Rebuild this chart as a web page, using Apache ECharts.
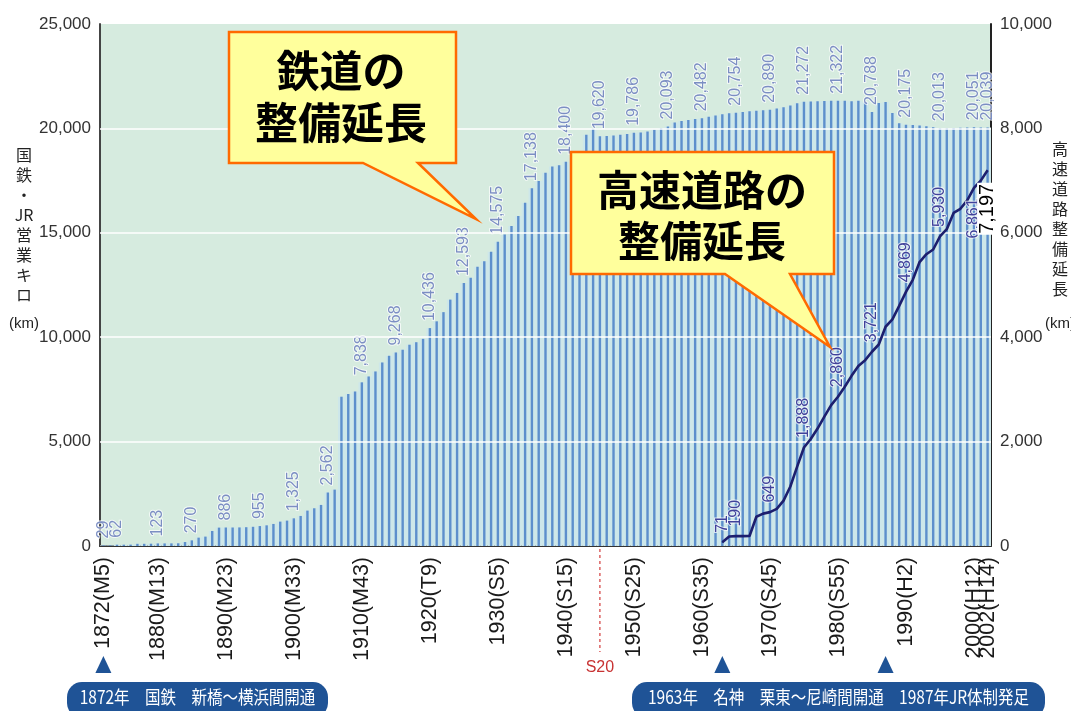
<!DOCTYPE html>
<html>
<head>
<meta charset="utf-8">
<script src="https://cdn.jsdelivr.net/npm/echarts@6/dist/echarts.min.js"></script>
<style>
  html, body { margin: 0; padding: 0; background: #ffffff; }
  #chart { width: 1071px; height: 711px; }
</style>
</head>
<body>
<div id="chart"></div>
<script>
// Years on the category axis (1872 .. 2002, one band per year)
const years = [];
for (let y = 1872; y <= 2002; y++) years.push(String(y));

// National railways / JR operating kilometres, one value per year 1872..2002
const railKm = [
  29, 29, 62, 62, 65, 105, 105, 110,                     // 1872-1879
  123, 123, 125, 130, 190, 270, 400, 450, 720, 880,      // 1880-1889
  886, 886, 890, 900, 920, 955, 990, 1056, 1168, 1216,   // 1890-1899
  1325, 1440, 1695, 1807, 1967, 2562, 2700, 7150, 7280, 7400, // 1900-1909
  7838, 8120, 8360, 8790, 9110, 9268, 9400, 9640, 9760, 9920, // 1910-1919
  10436, 10760, 11200, 11800, 12120, 12593, 12850, 13370, 13640, 14090, // 1920-1929
  14575, 14920, 15320, 15800, 16440, 17138, 17480, 17880, 18170, 18230, // 1930-1939
  18400, 18600, 18800, 19700, 19990, 19620, 19640, 19660, 19690, 19730, // 1940-1949
  19786, 19800, 19850, 19930, 20010, 20093, 20280, 20360, 20400, 20450, // 1950-1959
  20482, 20560, 20620, 20680, 20720, 20754, 20790, 20820, 20850, 20870, // 1960-1969
  20890, 20950, 21010, 21100, 21200, 21272, 21290, 21300, 21310, 21320, // 1970-1979
  21322, 21320, 21300, 21330, 21250, 20788, 21220, 21270, 20740, 20250, // 1980-1989
  20175, 20160, 20140, 20100, 20050, 20013, 20010, 20020, 20030, 20040, // 1990-1999
  20051, 20045, 20039                                    // 2000-2002
];

// Expressway length in service (km), 1963..2002
const highwayStart = 1963;
const highwayKm = [
  71, 181, 190, 190, 192, 560, 620,                      // 1963-1969
  649, 710, 870, 1140, 1520, 1888, 2050, 2250, 2480, 2700, // 1970-1979
  2860, 3050, 3260, 3450, 3560, 3721, 3860, 4200, 4340, 4600, // 1980-1989
  4869, 5100, 5440, 5590, 5680, 5930, 6070, 6380, 6460, 6620, // 1990-1999
  6861, 7000, 7197                                       // 2000-2002
];

// Year labels on the time axis (the last one sits on its own label row)
const xTickLabels = {
  '1872': '1872(M5)', '1880': '1880(M13)', '1890': '1890(M23)', '1900': '1900(M33)',
  '1910': '1910(M43)', '1920': '1920(T9)', '1930': '1930(S5)', '1940': '1940(S15)',
  '1950': '1950(S25)', '1960': '1960(S35)', '1970': '1970(S45)', '1980': '1980(S55)',
  '1990': '1990(H2)', '2000': '2000(H12)'
};
const xEndLabels = { '2002': '2002(H14)' };

// Years whose values are printed next to the marks
const railLabelYears = [1872, 1874, 1880, 1885, 1890, 1895, 1900, 1905, 1910, 1915, 1920,
  1925, 1930, 1935, 1940, 1945, 1950, 1955, 1960, 1965, 1970, 1975, 1980, 1985, 1990,
  1995, 2000, 2002];
const highwayLabelYears = [1963, 1965, 1970, 1975, 1980, 1985, 1990, 1995, 2000, 2002];
const highwayLabelsBelow = [2000];

const SANS = "'Liberation Sans', Arial, sans-serif";
const JP = "'Noto Sans CJK JP', sans-serif";
const fmt = v => Number(v).toLocaleString('en-US');
const has = (obj, key) => Object.prototype.hasOwnProperty.call(obj, key);

const railData = railKm.map((v, i) => {
  const yr = 1872 + i;
  return railLabelYears.includes(yr) ? { value: v, label: { show: true } } : v;
});

const highwayData = years.map(y => {
  const yr = Number(y);
  const idx = yr - highwayStart;
  if (idx < 0 || idx >= highwayKm.length) return null;
  const v = highwayKm[idx];
  if (!highwayLabelYears.includes(yr)) return v;
  if (yr === 2002) {
    return { value: v, label: { show: true, position: 'bottom', rotate: 90, align: 'right',
      verticalAlign: 'middle', distance: 12, fontSize: 20, color: '#000',
      backgroundColor: '#ffffff', padding: [1, 1, 0, 1], textBorderWidth: 0 } };
  }
  if (highwayLabelsBelow.includes(yr)) {
    return { value: v, label: { show: true, position: 'bottom', rotate: 90, align: 'right',
      verticalAlign: 'middle', distance: 10 } };
  }
  return { value: v, label: { show: true } };
});

const yearLabelStyle = {
  rotate: 90, margin: 11, color: '#1a1a1a', fontSize: 21.5, fontFamily: SANS,
  hideOverlap: false, showMinLabel: true, showMaxLabel: true
};

const chart = echarts.init(document.getElementById('chart'), null, { renderer: 'canvas' });

const option = {
  animation: false,
  backgroundColor: '#ffffff',
  grid: {
    left: 100, right: 80, top: 24, bottom: 165,
    show: true, backgroundColor: '#d6ebdf', borderWidth: 0
  },
  xAxis: [
    {
      type: 'category', data: years, boundaryGap: true, position: 'bottom',
      axisLine: { show: true, lineStyle: { color: '#333', width: 2 } },
      axisTick: { show: false },
      axisLabel: Object.assign({}, yearLabelStyle, {
        interval: (index, value) => has(xTickLabels, value),
        formatter: value => xTickLabels[value] || ''
      }),
      splitLine: { show: false }
    },
    {
      type: 'category', data: years, boundaryGap: true, position: 'bottom', offset: 0,
      axisLine: { show: false },
      axisTick: { show: false },
      axisLabel: Object.assign({}, yearLabelStyle, {
        interval: (index, value) => has(xEndLabels, value),
        formatter: value => xEndLabels[value] || ''
      }),
      splitLine: { show: false }
    }
  ],
  yAxis: [
    {
      type: 'value', min: 0, max: 25000, interval: 5000,
      axisLine: { show: true, lineStyle: { color: '#444', width: 2 } },
      axisTick: { show: false },
      splitLine: { show: false },
      axisLabel: { color: '#333', fontSize: 17, fontFamily: SANS, margin: 9, formatter: fmt }
    },
    {
      type: 'value', min: 0, max: 10000, interval: 2000, position: 'right',
      axisLine: { show: true, lineStyle: { color: '#222', width: 2 } },
      axisTick: { show: false },
      splitLine: { show: false },
      axisLabel: { color: '#333', fontSize: 17, fontFamily: SANS, margin: 9, formatter: fmt }
    }
  ],
  series: [
    {
      name: 'railBand', type: 'bar', xAxisIndex: 1, yAxisIndex: 0,
      data: railKm, barWidth: '100%', silent: true, z: 1,
      itemStyle: { color: '#cde7ea' }
    },
    {
      name: 'rail', type: 'bar', xAxisIndex: 0, yAxisIndex: 0,
      data: railData, barWidth: 2.4, z: 2,
      itemStyle: { color: '#5d8fcc' },
      label: {
        show: false, position: 'top', rotate: 90, align: 'left', verticalAlign: 'middle',
        distance: 7, color: '#7b8ec3', fontSize: 16, fontFamily: SANS,
        textBorderColor: 'rgba(255,255,255,0.7)', textBorderWidth: 2,
        formatter: p => fmt(p.value)
      },
      markLine: {
        silent: true, symbol: ['none', 'none'], z: 5,
        label: { show: false },
        lineStyle: { color: 'rgba(255,255,255,0.75)', width: 2, type: 'solid' },
        data: [{ yAxis: 5000 }, { yAxis: 10000 }, { yAxis: 15000 }, { yAxis: 20000 }]
      }
    },
    {
      name: 'highway', type: 'line', xAxisIndex: 0, yAxisIndex: 1,
      data: highwayData, connectNulls: false, z: 10,
      symbol: 'circle', symbolSize: 1, showSymbol: true,
      lineStyle: { color: '#1d1f6e', width: 2.6 },
      itemStyle: { color: '#1d1f6e' },
      label: {
        show: false, position: 'top', rotate: 90, align: 'left', verticalAlign: 'middle',
        distance: 9, color: '#40419a', fontSize: 16, fontFamily: SANS,
        textBorderColor: 'rgba(255,255,255,0.7)', textBorderWidth: 2,
        formatter: p => fmt(p.value)
      }
    }
  ]
};

chart.setOption(option);

// Annotations: callouts, axis titles, event markers along the time axis
const px = yr => chart.convertToPixel({ xAxisIndex: 0 }, String(yr));
const baseY = chart.convertToPixel({ yAxisIndex: 0 }, 0);

function triangle(x) {
  return {
    type: 'polygon', z: 100,
    shape: { points: [[x, 656], [x - 8, 673], [x + 8, 673]] },
    style: { fill: '#1f5396' }
  };
}

function callout(points, lines, cx, top, size) {
  return [
    {
      type: 'polygon', z: 100,
      shape: { points: points },
      style: { fill: '#ffff9c', stroke: '#ff6a00', lineWidth: 2.5, lineJoin: 'miter' }
    },
    {
      type: 'text', z: 101, x: cx, y: top,
      style: {
        text: lines.join('\n'), fill: '#000', align: 'center', verticalAlign: 'top',
        font: 'bold ' + size + 'px ' + JP, lineHeight: size * 1.22
      }
    }
  ];
}

function pill(x, width, text) {
  return [
    {
      type: 'rect', z: 100,
      shape: { x: x, y: 682, width: width, height: 36, r: 15 },
      style: { fill: '#1f5396' }
    },
    {
      type: 'text', z: 101, x: x + width / 2, y: 697, scaleX: 0.86, originX: 0, originY: 0,
      style: { text: text, fill: '#fff', align: 'center', verticalAlign: 'middle', font: '18px ' + JP }
    }
  ];
}

const s20 = px(1945);

const graphics = [].concat(
  callout([[229, 32], [456, 32], [456, 163], [418, 163], [476, 219], [363, 163], [229, 163]],
    ['鉄道の', '整備延長'], 341, 44, 43),
  callout([[571, 152], [834, 152], [834, 274], [790, 274], [830, 347], [725, 274], [571, 274]],
    ['高速道路の', '整備延長'], 702, 164, 42),
  [
    {
      type: 'text', z: 100, x: 24, y: 145,
      style: { text: '国\n鉄\n・\nJR\n営\n業\nキ\nロ', fill: '#222', align: 'center',
        font: '16px ' + JP, lineHeight: 20 }
    },
    {
      type: 'text', z: 100, x: 24, y: 316,
      style: { text: '(km)', fill: '#222', align: 'center', font: '15px ' + SANS }
    },
    {
      type: 'text', z: 100, x: 1060, y: 139,
      style: { text: '高\n速\n道\n路\n整\n備\n延\n長', fill: '#222', align: 'center',
        font: '16px ' + JP, lineHeight: 20 }
    },
    {
      type: 'text', z: 100, x: 1060, y: 316,
      style: { text: '(km)', fill: '#222', align: 'center', font: '15px ' + SANS }
    },
    {
      type: 'line', z: 100,
      shape: { x1: s20, y1: baseY + 3, x2: s20, y2: 652 },
      style: { stroke: '#d23c3c', lineWidth: 1.2, lineDash: [3, 3] }
    },
    {
      type: 'text', z: 100, x: s20, y: 660,
      style: { text: 'S20', fill: '#c83232', align: 'center', font: '16px ' + SANS }
    },
    triangle(px(1872)),
    triangle(px(1963)),
    triangle(px(1987))
  ],
  pill(67, 261, '1872年　国鉄　新橋～横浜間開通'),
  pill(632, 413, '1963年　名神　栗東～尼崎間開通　1987年JR体制発足')
);

chart.setOption({ graphic: graphics });
</script>
</body>
</html>
